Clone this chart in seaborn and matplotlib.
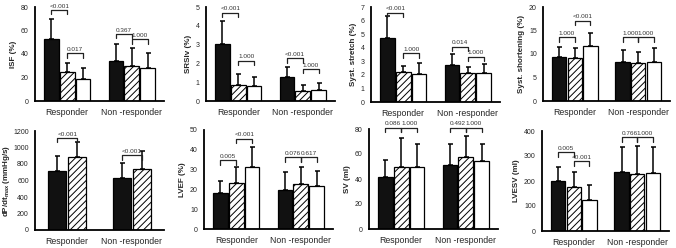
import numpy as np
import pandas as pd
import matplotlib
matplotlib.use("Agg")
import matplotlib.pyplot as plt
import seaborn as sns

groups = ["Responder", "Non -responder"]
conds = ["A", "B", "C"]

# means / SD per group (Responder, Non-responder)
isf_mean = [[52.5, 24.7, 18.5], [34.3, 29.8, 27.8]]
isf_sd = [[17.3, 7.4, 9.3], [13.9, 15.0, 13.3]]
srs_mean = [[3.02, 0.85, 0.80], [1.26, 0.55, 0.59]]
srs_sd = [[1.25, 0.59, 0.49], [0.56, 0.30, 0.35]]
stretch_mean = [[4.74, 2.19, 2.04], [2.73, 2.11, 2.16]]
stretch_sd = [[1.60, 0.49, 0.86], [0.81, 0.49, 0.62]]
short_mean = [[9.3, 9.15, 11.7], [8.36, 8.0, 8.36]]
short_sd = [[2.25, 2.05, 2.8], [2.5, 2.5, 2.85]]
dpdt_mean = [[719, 889], [626, 739]]
dpdt_sd = [[181, 174], [182, 215]]
lvef_mean = [[18.2, 23.1, 31.2], [19.9, 22.7, 21.7]]
lvef_sd = [[5.9, 8.1, 10.1], [8.7, 8.5, 7.7]]
sv_mean = [[41.3, 49.9, 49.3], [51.2, 57.3, 54.1]]
sv_sd = [[13.9, 22.9, 18.7], [16.8, 17.3, 13.9]]
lvesv_mean = [[199, 177, 124], [235, 228, 233]]
lvesv_sd = [[58, 60, 61], [102, 113, 104]]

# p-value brackets: (group, bar i, bar j, height, label)
isf_p = [(0, 0, 1, 77.4, "<0.001"), (0, 1, 2, 40.6, "0.017"),
         (1, 0, 1, 56.8, "0.367"), (1, 1, 2, 52.5, "1.000")]
srs_p = [(0, 0, 1, 4.70, "<0.001"), (0, 1, 2, 2.14, "1.000"),
         (1, 0, 1, 2.27, "<0.001"), (1, 1, 2, 1.69, "1.000")]
stretch_p = [(0, 0, 1, 6.58, "<0.001"), (0, 1, 2, 3.59, "1.000"),
             (1, 0, 1, 4.07, "0.014"), (1, 1, 2, 3.34, "1.000")]
short_p = [(0, 0, 1, 13.55, "1.000"), (0, 1, 2, 17.1, "<0.001"),
           (1, 0, 1, 13.55, "1.000"), (1, 1, 2, 13.55, "1.000")]
dpdt_p = [(0, 0, 1, 1115, "<0.001"), (1, 0, 1, 905, "<0.001")]
lvef_p = [(0, 0, 1, 34.8, "0.005"), (0, 1, 2, 45.5, "<0.001"),
          (1, 0, 1, 36.2, "0.076"), (1, 1, 2, 36.2, "0.617")]
sv_p = [(0, 0, 1, 81.0, "0.086"), (0, 1, 2, 81.0, "1.000"),
        (1, 0, 1, 81.0, "0.492"), (1, 1, 2, 81.0, "1.000")]
lvesv_p = [(0, 0, 1, 315, "0.005"), (0, 1, 2, 279, "<0.001"),
           (1, 0, 1, 375, "0.766"), (1, 1, 2, 375, "1.000")]

sns.set_style("white")
plt.rcParams["font.family"] = ["Liberation Sans", "DejaVu Sans"]
plt.rcParams["hatch.linewidth"] = 0.7

fig = plt.figure(figsize=(6.76, 2.48), dpi=100)
W, H = 676.0, 248.0


def make_ax(left, top, bottom, width=129):
    return fig.add_axes([left / W, 1 - bottom / H, width / W, (bottom - top) / H])


def draw_panel(ax, means, sds, ymax, ystep, ylabel, brackets, labelpad=3):
    n = len(means[0])
    cs = conds[:n]
    df = pd.DataFrame([(g, c, means[gi][ci]) for gi, g in enumerate(groups)
                       for ci, c in enumerate(cs)], columns=["group", "cond", "value"])
    pal = {"A": "#111111", "B": "white", "C": "white"}
    sns.barplot(data=df, x="group", y="value", hue="cond", order=groups, hue_order=cs,
                palette=pal, saturation=1, width=0.74 if n == 3 else 0.62, gap=0.08,
                edgecolor="black", linewidth=0.9, errorbar=None, legend=False, ax=ax)
    bars = [list(c) for c in ax.containers]
    for p in bars[1]:
        p.set_hatch("/////")
    centers = {}
    for ci, cont in enumerate(bars):
        for gi, p in enumerate(cont):
            x = p.get_x() + p.get_width() / 2
            centers[(gi, ci)] = x
            ax.errorbar(x, means[gi][ci], yerr=[[0], [sds[gi][ci]]], fmt="none",
                        ecolor="black", elinewidth=1.1, capsize=1.8, capthick=1.1, zorder=3)
    leg = 0.045 * ymax
    for gi, i, j, y, lab in brackets:
        x1, x2 = centers[(gi, i)], centers[(gi, j)]
        ax.plot([x1, x1, x2, x2], [y - leg, y, y, y - leg], color="#222222", lw=0.9,
                clip_on=False, zorder=4)
        ax.text((x1 + x2) / 2, y + 0.015 * ymax, lab, ha="center", va="bottom",
                fontsize=4.6, color="#333333", clip_on=False)
    ax.set_xlim(-0.5, 1.5)
    ax.set_ylim(0, ymax)
    ax.set_yticks(np.arange(0, ymax + ystep / 2, ystep))
    ax.set_xticks([0, 1])
    ax.set_xticklabels(groups)
    ax.set_xticks([-0.5, 0.5, 1.5], minor=True)
    ax.tick_params(axis="x", which="major", length=0, labelsize=6.3, pad=5)
    ax.tick_params(axis="x", which="minor", length=3, width=1.2, direction="out")
    ax.tick_params(axis="y", length=3, width=1.2, direction="out", labelsize=5, pad=1.5)
    ax.set_xlabel("")
    ax.set_ylabel(ylabel, fontsize=5.8, fontweight="bold", labelpad=labelpad)
    for s in ["top", "right"]:
        ax.spines[s].set_visible(False)
    for s in ["left", "bottom"]:
        ax.spines[s].set_linewidth(1.3)
        ax.spines[s].set_color("black")


draw_panel(make_ax(35, 7, 101), isf_mean, isf_sd, 80, 20, "ISF (%)", isf_p)
draw_panel(make_ax(206, 7, 101), srs_mean, srs_sd, 5, 1, "SRSlv (%)", srs_p)
draw_panel(make_ax(371, 7, 102), stretch_mean, stretch_sd, 7, 1, "Syst. stretch (%)", stretch_p)
draw_panel(make_ax(543, 7, 101, 127), short_mean, short_sd, 20, 5, "Syst. shortening (%)", short_p)
draw_panel(make_ax(35, 131, 230), dpdt_mean, dpdt_sd, 1200, 200,
           r"dP/dt$_{\mathregular{max}}$ (mmHg/s)", dpdt_p, labelpad=0.5)
draw_panel(make_ax(204, 130, 229), lvef_mean, lvef_sd, 50, 10, "LVEF (%)", lvef_p)
draw_panel(make_ax(369, 129, 229), sv_mean, sv_sd, 80, 20, "SV (ml)", sv_p)
draw_panel(make_ax(542, 131, 231, 127), lvesv_mean, lvesv_sd, 400, 100, "LVESV (ml)", lvesv_p)

fig.savefig("out.png", dpi=100)
